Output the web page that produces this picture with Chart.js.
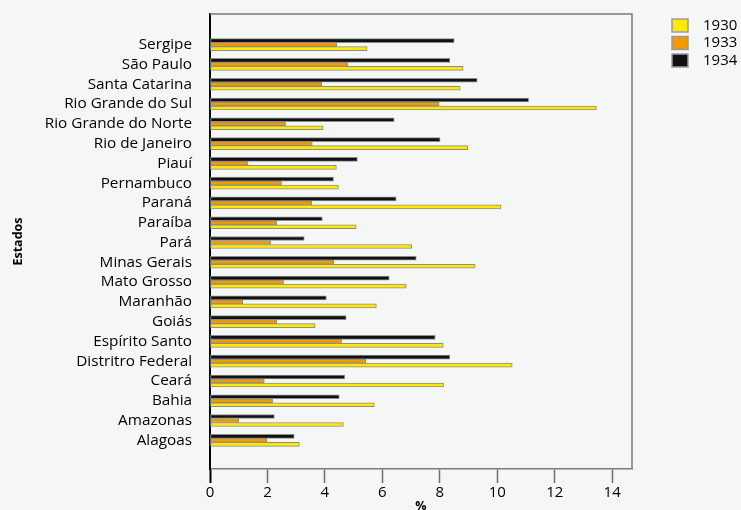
<!DOCTYPE html>
<html><head><meta charset="utf-8">
<script src="https://cdn.jsdelivr.net/npm/chart.js@4.4.1/dist/chart.umd.min.js"></script>
<style>html,body{margin:0;padding:0;background:#f5f6f6;overflow:hidden}#wrap{width:741px;height:510px;position:relative}</style>
</head><body><div id="wrap"><canvas id="c" width="741" height="510"></canvas></div>
<script>
const categories = ['Alagoas','Amazonas','Bahia','Ceará','Distritro Federal','Espírito Santo','Goiás','Maranhão','Mato Grosso','Minas Gerais','Pará','Paraíba','Paraná','Pernambuco','Piauí','Rio de Janeiro','Rio Grande do Norte','Rio Grande do Sul','Santa Catarina','São Paulo','Sergipe'];
const years = ['1930','1933','1934'];
const values1930 = [3.11,4.64,5.72,8.13,10.52,8.12,3.66,5.79,6.83,9.23,7.02,5.09,10.13,4.47,4.40,8.97,3.94,13.45,8.71,8.81,5.47];
const values1933 = [1.98,1.00,2.18,1.89,5.42,4.58,2.32,1.14,2.56,4.31,2.11,2.32,3.54,2.49,1.31,3.56,2.63,7.97,3.89,4.79,4.41];
const values1934 = [2.93,2.24,4.50,4.69,8.35,7.84,4.74,4.05,6.24,7.18,3.28,3.91,6.48,4.30,5.13,8.01,6.41,11.09,9.30,8.35,8.50];
const xTickValues = [0,2,4,6,8,10,12,14];

const seriesValues = {'1930': values1930, '1933': values1933, '1934': values1934};
const colors = {'1930':'#FFE900','1933':'#F29A00','1934':'#111111'};
const FONT = '"Open Sans", "Noto Sans", sans-serif';

const datasets = ['1934','1933','1930'].map(yr => ({
  label: yr,
  data: categories.map((c,i) => ({x: seriesValues[yr][i], y: i})),
  backgroundColor: colors[yr],
  borderColor: '#8c8c8c',
  borderWidth: 1,
  borderSkipped: false,
  barThickness: 4
}));

const frame = {
  id: 'frame',
  afterDatasetsDraw(chart){
    const {ctx, chartArea:a} = chart;
    ctx.save();
    ctx.strokeStyle = '#7a7a7a';
    ctx.lineWidth = 1.5;
    ctx.beginPath();
    ctx.moveTo(a.left, a.top); ctx.lineTo(a.right, a.top); ctx.lineTo(a.right, a.bottom);
    ctx.stroke();
    ctx.restore();
  },
  afterDraw(chart){
    const ctx = chart.ctx;
    ctx.save();
    years.forEach((yr,k) => {
      const ds = chart.data.datasets.find(d => d.label === yr);
      const top = 19 + k*17.5;
      ctx.fillStyle = ds.backgroundColor;
      ctx.fillRect(672, top, 16, 13);
      ctx.strokeStyle = '#9a9a9a';
      ctx.lineWidth = 1.5;
      ctx.strokeRect(672, top, 16, 13);
      ctx.fillStyle = '#000';
      ctx.font = '15px ' + FONT;
      ctx.textBaseline = 'middle';
      ctx.textAlign = 'left';
      ctx.fillText(yr, 703, top + 6.5);
    });
    ctx.restore();
  }
};

new Chart(document.getElementById('c'), {
  type: 'bar',
  data: {datasets},
  plugins: [frame],
  options: {
    indexAxis: 'y',
    responsive: false,
    animation: false,
    layout: {padding: {top: 14, right: 109, left: 0, bottom: 0}},
    plugins: {legend: {display: false}, tooltip: {enabled: false}},
    scales: {
      x: {
        type: 'linear', position: 'bottom', min: 0, max: 14.69, offset: false,
        afterFit: s => { s.height = 41; s.paddingLeft = 0; s.paddingRight = 0; },
        afterBuildTicks: s => { s.ticks = xTickValues.map(v => ({value: v})); },
        ticks: {padding: 1, color: '#000', font: {family: FONT, size: 15}, maxRotation: 0, autoSkip: false},
        grid: {drawOnChartArea: false, drawTicks: true, tickLength: 14, offset: false,
          tickColor: c => (c.tick && c.tick.value === 0) ? '#000' : '#6e6e6e',
          tickWidth: c => (c.tick && c.tick.value === 0) ? 2 : 1.5},
        border: {display: true, color: '#7a7a7a', width: 1.5},
        title: {display: true, text: '%', color: '#000', font: {family: FONT, size: 12.5, weight: 'bold'}, padding: {top: 0, bottom: -4}}
      },
      y: {
        type: 'linear', position: 'left', min: -1.45, max: 21.55, offset: false,
        afterFit: s => { s.width = 210; s.paddingTop = 0; s.paddingBottom = 0; },
        afterBuildTicks: s => { s.ticks = categories.map((c, i) => ({value: i})); },
        ticks: {autoSkip: false, padding: 18, color: '#000',
          font: {family: FONT, size: 15.3},
          callback: v => categories[Math.round(v)]},
        grid: {display: false, drawTicks: false, offset: false},
        border: {display: true, color: '#000', width: 2},
        title: {display: true, text: 'Estados', color: '#000', font: {family: FONT, size: 12.5, weight: 'bold'}, padding: {top: 11, bottom: 0}}
      }
    }
  }
});
</script>
</body></html>
